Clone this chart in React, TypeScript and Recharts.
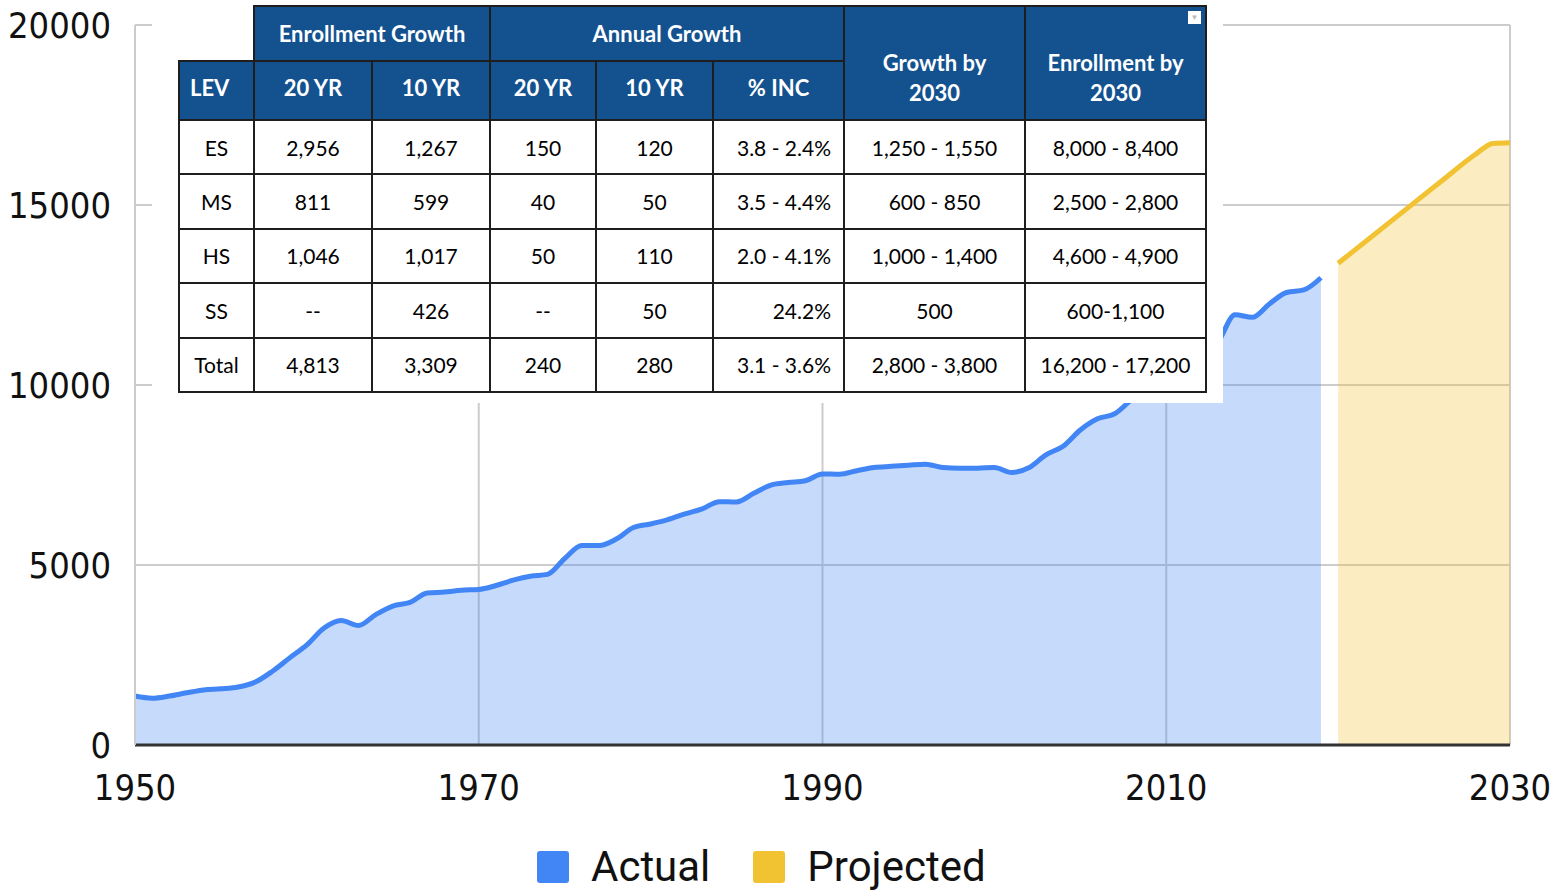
import { AreaChart, Area, XAxis, YAxis, CartesianGrid } from 'recharts';

const actualYears = [
  1950, 1951, 1952, 1953, 1954, 1955, 1956, 1957, 1958, 1959,
  1960, 1961, 1962, 1963, 1964, 1965, 1966, 1967, 1968, 1969,
  1970, 1971, 1972, 1973, 1974, 1975, 1976, 1977, 1978, 1979,
  1980, 1981, 1982, 1983, 1984, 1985, 1986, 1987, 1988, 1989,
  1990, 1991, 1992, 1993, 1994, 1995, 1996, 1997, 1998, 1999,
  2000, 2001, 2002, 2003, 2004, 2005, 2006, 2007, 2008, 2009,
  2010, 2011, 2012, 2013, 2014, 2015, 2016, 2017, 2018, 2019,
];
const actualValues = [
  1360, 1300, 1360, 1450, 1530, 1560, 1610, 1750, 2050, 2420,
  2780, 3250, 3460, 3320, 3620, 3860, 3960, 4220, 4250, 4300,
  4320, 4430, 4580, 4690, 4740, 5180, 5540, 5540, 5720, 6040,
  6140, 6260, 6420, 6560, 6760, 6750, 6990, 7220, 7290, 7340,
  7530, 7520, 7620, 7710, 7740, 7770, 7800, 7710, 7690, 7690,
  7710, 7570, 7700, 8060, 8300, 8750, 9060, 9200, 9600, 9950,
  10300, 10650, 10950, 11200, 11950, 11880, 12250, 12570, 12640, 12980,
];

const projectedYears = [2020, 2022, 2024, 2026, 2028, 2029, 2030];
const projectedValues = [13380, 14140, 14900, 15660, 16410, 16710, 16730];

const xTicks = [1950, 1970, 1990, 2010, 2030];
const yTicks = [0, 5000, 10000, 15000, 20000];

const groupHeaders = ['Enrollment Growth', 'Annual Growth'];
const columnHeaders = ['LEV', '20 YR', '10 YR', '20 YR', '10 YR', '% INC'];
const sideHeaders = ['Growth by', 'Enrollment by'];
const tableRows = [
  ['ES', '2,956', '1,267', '150', '120', '3.8 - 2.4%', '1,250 - 1,550', '8,000 - 8,400'],
  ['MS', '811', '599', '40', '50', '3.5 - 4.4%', '600 - 850', '2,500 - 2,800'],
  ['HS', '1,046', '1,017', '50', '110', '2.0 - 4.1%', '1,000 - 1,400', '4,600 - 4,900'],
  ['SS', '--', '426', '--', '50', '24.2%', '500', '600-1,100'],
  ['Total', '4,813', '3,309', '240', '280', '3.1 - 3.6%', '2,800 - 3,800', '16,200 - 17,200'],
];

const BLUE = '#4285f4';
const YELLOW = '#f1c232';
const HEAD = '#14528f';
const colWidths = [75, 118, 118, 106, 117, 131, 181, 181];

const chartData = [
  ...actualYears.map((year, i) => ({ year, actual: actualValues[i] })),
  ...projectedYears.map((year, i) => ({ year, projected: projectedValues[i] })),
];

const axisFont = { fontSize: 36, fill: '#111', fontFamily: '"DejaVu Sans Condensed", "DejaVu Sans", sans-serif' };
const border = '2px solid #1e1e1e';

function SummaryTable() {
  const head = {
    background: HEAD,
    color: '#fff',
    fontWeight: 700,
    fontSize: 22,
    border,
    textAlign: 'center' as const,
    padding: 0,
  };
  const cell = {
    border,
    textAlign: 'center' as const,
    padding: 0,
    color: '#000',
  };
  return (
    <>
      <div style={{ position: 'absolute', left: 152, top: 0, width: 1071, height: 403, background: '#fff' }} />
      <table
        style={{
          position: 'absolute',
          left: 178,
          top: 5,
          width: 1027,
          borderCollapse: 'collapse',
          tableLayout: 'fixed',
          fontFamily: 'Lato, "Open Sans", sans-serif',
          fontSize: 21,
        }}
      >
        <colgroup>
          {colWidths.map((w, i) => (
            <col key={i} style={{ width: w }} />
          ))}
        </colgroup>
        <tbody>
          <tr style={{ height: 55 }}>
            <td style={{ border: 'none' }} />
            <td colSpan={2} style={head}>{groupHeaders[0]}</td>
            <td colSpan={3} style={head}>{groupHeaders[1]}</td>
            {sideHeaders.map((h, i) => (
              <td key={h} rowSpan={2} style={{ ...head, lineHeight: '30px', paddingTop: 30, position: 'relative' }}>
                {h}
                <br />
                2030
                {i === 1 && (
                  <div
                    style={{
                      position: 'absolute',
                      right: 4,
                      top: 4,
                      width: 13,
                      height: 13,
                      background: '#fff',
                      color: '#bbb',
                      fontSize: 8,
                      lineHeight: '13px',
                    }}
                  >
                    ▼
                  </div>
                )}
              </td>
            ))}
          </tr>
          <tr style={{ height: 59 }}>
            {columnHeaders.map((h, i) => (
              <td
                key={i}
                style={{ ...head, textAlign: i === 0 ? 'left' : 'center', paddingLeft: i === 0 ? 10 : 0, paddingBottom: 6 }}
              >
                {h}
              </td>
            ))}
          </tr>
          {tableRows.map((row) => (
            <tr key={row[0]} style={{ height: 54.4 }}>
              {row.map((v, i) => (
                <td
                  key={i}
                  style={{ ...cell, textAlign: i === 5 ? 'right' : 'center', paddingRight: i === 5 ? 12 : 0 }}
                >
                  {v}
                </td>
              ))}
            </tr>
          ))}
        </tbody>
      </table>
    </>
  );
}

function ChartLegend() {
  const items = [
    { label: 'Actual', color: BLUE },
    { label: 'Projected', color: YELLOW },
  ];
  return (
    <div
      style={{
        position: 'absolute',
        left: 537,
        top: 842,
        display: 'flex',
        alignItems: 'center',
        fontFamily: 'Roboto, sans-serif',
        fontSize: 42,
        color: '#111',
      }}
    >
      {items.map((it, i) => (
        <div key={it.label} style={{ display: 'flex', alignItems: 'center', marginRight: i === 0 ? 43 : 0 }}>
          <div style={{ width: 32, height: 32, borderRadius: 3, background: it.color, marginRight: 22 }} />
          <span>{it.label}</span>
        </div>
      ))}
    </div>
  );
}

export default function App() {
  return (
    <div style={{ position: 'absolute', left: 0, top: 0, width: 1556, height: 891, background: '#fff', overflow: 'hidden' }}>
      <AreaChart width={1556} height={835} data={chartData} margin={{ top: 25, right: 46, bottom: 27, left: 0 }}>
        <CartesianGrid stroke="#cccccc" strokeWidth={2} horizontalValues={yTicks} verticalValues={xTicks} />
        <XAxis
          dataKey="year"
          type="number"
          domain={[1950, 2030]}
          ticks={xTicks}
          height={63}
          tickLine={false}
          tickSize={0}
          tickMargin={29}
          axisLine={{ stroke: '#333', strokeWidth: 3 }}
          tick={axisFont}
          interval={0}
        />
        <YAxis
          type="number"
          domain={[0, 20000]}
          ticks={yTicks}
          width={135}
          tickLine={false}
          tickSize={0}
          tickMargin={24}
          axisLine={{ stroke: '#cccccc', strokeWidth: 2 }}
          tick={axisFont}
          interval={0}
        />
        <Area
          type="monotone"
          dataKey="actual"
          stroke={BLUE}
          strokeWidth={5}
          fill={BLUE}
          fillOpacity={0.3}
          isAnimationActive={false}
          connectNulls={false}
          dot={false}
          activeDot={false}
        />
        <Area
          type="monotone"
          dataKey="projected"
          stroke={YELLOW}
          strokeWidth={5}
          fill={YELLOW}
          fillOpacity={0.3}
          isAnimationActive={false}
          connectNulls={false}
          dot={false}
          activeDot={false}
        />
      </AreaChart>
      <SummaryTable />
      <ChartLegend />
    </div>
  );
}
